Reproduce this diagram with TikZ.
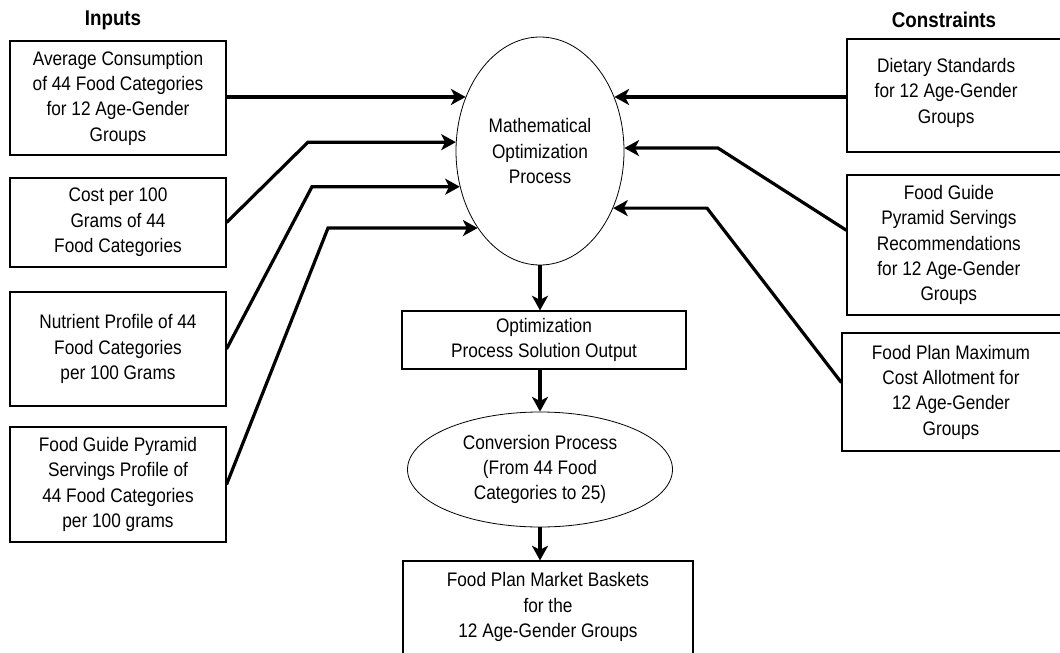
\documentclass[tikz,border=0pt]{standalone}
\usepackage{fontspec}
\setmainfont[FakeStretch=0.88]{Liberation Sans}
\usetikzlibrary{shapes.geometric,arrows.meta}
\begin{document}
\begin{tikzpicture}[x=0.75pt,y=-0.75pt,
  box/.style={draw, line width=0.8pt, rectangle, align=center, inner sep=0pt, font=\fontsize{14.7}{19}\selectfont},
  proc/.style={draw, line width=0.6pt, ellipse, align=center, inner sep=0pt, font=\fontsize{14.7}{19}\selectfont},
  head/.style={font=\fontsize{16}{19}\bfseries\selectfont},
  lbl/.style={align=center, inner sep=0pt, font=\fontsize{14.7}{19}\selectfont},
  flow/.style={line width=2.4pt, -{Stealth[length=11pt,width=12pt,inset=3pt]}}]
\useasboundingbox (0,0) rectangle (1060,653);
\clip (0,0) rectangle (1060,653);
% inputs
\node[head] (inputs) at (113,20) {Inputs};
\node[box, minimum width=162pt, minimum height=85.5pt] (avg) at (118,98) {Average Consumption\\of 44 Food Categories\\for 12 Age-Gender\\Groups};
\node[box, minimum width=162pt, minimum height=66.75pt] (cost) at (118,222.5) {Cost per 100\\Grams of 44\\Food Categories};
\node[box, minimum width=162pt, minimum height=85.5pt] (nutr) at (118,349) {Nutrient Profile of 44\\Food Categories\\per 100 Grams};
\node[box, minimum width=162pt, minimum height=86.25pt] (pyr) at (118,484.5) {Food Guide Pyramid\\Servings Profile of\\44 Food Categories\\per 100 grams};
% constraints
\node[head] (constr) at (944,20) {Constraints};
\node[box, minimum width=174.75pt, minimum height=84.75pt, label={[lbl,xshift=-13pt,yshift=2pt]center:Dietary Standards\\for 12 Age-Gender\\Groups}] (diet) at (963.5,95.5) {};
\node[box, minimum width=174.75pt, minimum height=105pt, label={[lbl,xshift=-11pt]center:Food Guide\\Pyramid Servings\\Recommendations\\for 12 Age-Gender\\Groups}] (guide) at (963.5,245) {};
\node[box, minimum width=178.5pt, minimum height=88.5pt, label={[lbl,xshift=-7.5pt]center:Food Plan Maximum\\Cost Allotment for\\12 Age-Gender\\Groups}] (cap) at (961,392) {};
% process
\node[proc, minimum width=126pt, minimum height=171pt] (mop) at (540,151) {Mathematical\\Optimization\\Process};
\node[box, minimum width=213pt, minimum height=43.5pt] (opt) at (544,340) {Optimization\\Process Solution Output};
\node[proc, minimum width=198.75pt, minimum height=86.25pt] (conv) at (540,469.5) {Conversion Process\\(From 44 Food\\Categories to 25)};
\node[box, minimum width=217.5pt, minimum height=96.75pt, label={[lbl,yshift=13.9pt]center:Food Plan Market Baskets\\for the\\12 Age-Gender Groups}] (basket) at (548,625.5) {};
% bends
\coordinate (k2) at (308,0);
\coordinate (k3) at (312,0);
\coordinate (k4) at (328,0);
\coordinate (k6) at (718,0);
\coordinate (k7) at (707,0);
% arrows
\draw[flow] (avg.east |- mop.144) -- (mop.144);
\draw[flow] (cost.east) -- (k2 |- mop.174) -- (mop.174);
\draw[flow] (nutr.east) -- (k3 |- mop.204) -- (mop.204);
\draw[flow] (pyr.east) -- (k4 |- mop.231) -- (mop.231);
\draw[flow] (diet.west |- mop.36) -- (mop.36);
\draw[flow] ([yshift=11pt]guide.west) -- (k6 |- mop.2) -- (mop.2);
\draw[flow] ([yshift=7pt]cap.west) -- (k7 |- mop.322) -- (mop.322);
\draw[flow] (mop.south) -- (mop.south |- opt.north);
\draw[flow] (conv.north |- opt.south) -- (conv.north);
\draw[flow] (conv.south) -- (conv.south |- basket.north);
\end{tikzpicture}
\end{document}
